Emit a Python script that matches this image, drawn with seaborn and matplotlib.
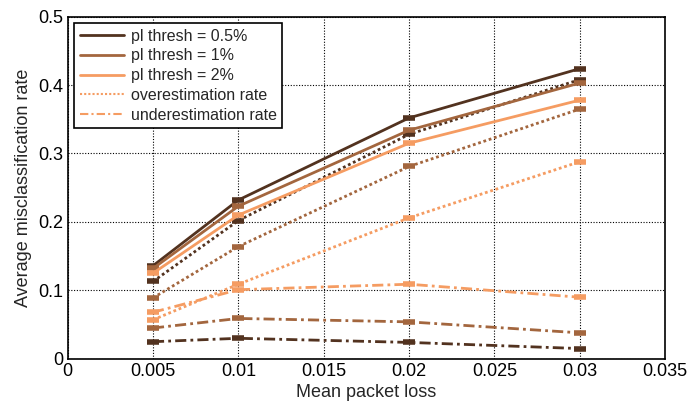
import matplotlib
matplotlib.use("Agg")
import matplotlib.pyplot as plt
from matplotlib.lines import Line2D
import seaborn as sns
import pandas as pd

# Data
x_loss = [0.005, 0.01, 0.02, 0.03]
thresholds = ["0.5%", "1%", "2%"]

total_05 = [0.136, 0.232, 0.352, 0.424]
over_05 = [0.113, 0.202, 0.328, 0.408]
under_05 = [0.025, 0.030, 0.024, 0.015]

total_1 = [0.132, 0.223, 0.334, 0.403]
over_1 = [0.089, 0.164, 0.281, 0.365]
under_1 = [0.045, 0.059, 0.054, 0.038]

total_2 = [0.125, 0.210, 0.315, 0.378]
over_2 = [0.057, 0.109, 0.206, 0.288]
under_2 = [0.068, 0.101, 0.109, 0.090]

x_ticks = [0, 0.005, 0.01, 0.015, 0.02, 0.025, 0.03, 0.035]
x_tick_labels = ["0", "0.005", "0.01", "0.015", "0.02", "0.025", "0.03", "0.035"]
y_ticks = [0, 0.1, 0.2, 0.3, 0.4, 0.5]
y_tick_labels = ["0", "0.1", "0.2", "0.3", "0.4", "0.5"]

colors = ["#52321f", "#a3663e", "#f59c62"]

sns.set_style("white")
plt.rcParams["font.family"] = ["Liberation Sans", "DejaVu Sans"]

fig = plt.figure(figsize=(6.9, 4.05), dpi=100)
ax = fig.add_axes([0.098, 0.114, 0.866, 0.845])

series = [
    (total_05, over_05, under_05),
    (total_1, over_1, under_1),
    (total_2, over_2, under_2),
]
styles = ["-", (0, (1, 1)), (0, (4, 1.5, 1, 1.5))]

for ci, (tot, ov, un) in enumerate(series):
    for vals, ls in zip((tot, ov, un), styles):
        df = pd.DataFrame({"x": x_loss, "y": vals})
        sns.lineplot(data=df, x="x", y="y", ax=ax, color=colors[ci],
                     linestyle=ls, linewidth=2, marker="_", markersize=8,
                     markeredgewidth=4, markeredgecolor=colors[ci],
                     legend=False, zorder=3)

ax.set_xlim(0, 0.035)
ax.set_ylim(0, 0.5)
ax.set_xticks(x_ticks)
ax.set_xticklabels(x_tick_labels)
ax.set_yticks(y_ticks)
ax.set_yticklabels(y_tick_labels)
ax.tick_params(axis="both", labelsize=13, direction="in", length=4, pad=3, colors="black")
ax.grid(True, color="black", linestyle=(0, (1, 1.5)), linewidth=0.8)
for s in ax.spines.values():
    s.set_color("black")
    s.set_linewidth(1.2)
ax.set_xlabel("Mean packet loss", fontsize=13, labelpad=3)
ax.set_ylabel("Average misclassification rate", fontsize=13, labelpad=5)

handles = [
    Line2D([0], [0], color=colors[0], lw=2, ls="-"),
    Line2D([0], [0], color=colors[1], lw=2, ls="-"),
    Line2D([0], [0], color=colors[2], lw=2, ls="-"),
    Line2D([0], [0], color=colors[2], lw=1.5, ls=(0, (1, 1))),
    Line2D([0], [0], color=colors[2], lw=1.5, ls=(0, (4, 1.5, 1, 1.5))),
]
labels = ["pl thresh = 0.5%", "pl thresh = 1%", "pl thresh = 2%",
          "overestimation rate", "underestimation rate"]
leg = ax.legend(handles, labels, loc="upper left", fontsize=11.5, frameon=True,
                fancybox=False, edgecolor="black", framealpha=1,
                borderpad=0.35, labelspacing=0.3, handlelength=2.8,
                handletextpad=0.4, borderaxespad=0.4)
leg.get_frame().set_linewidth(1.2)

fig.savefig("out.png", dpi=100)
